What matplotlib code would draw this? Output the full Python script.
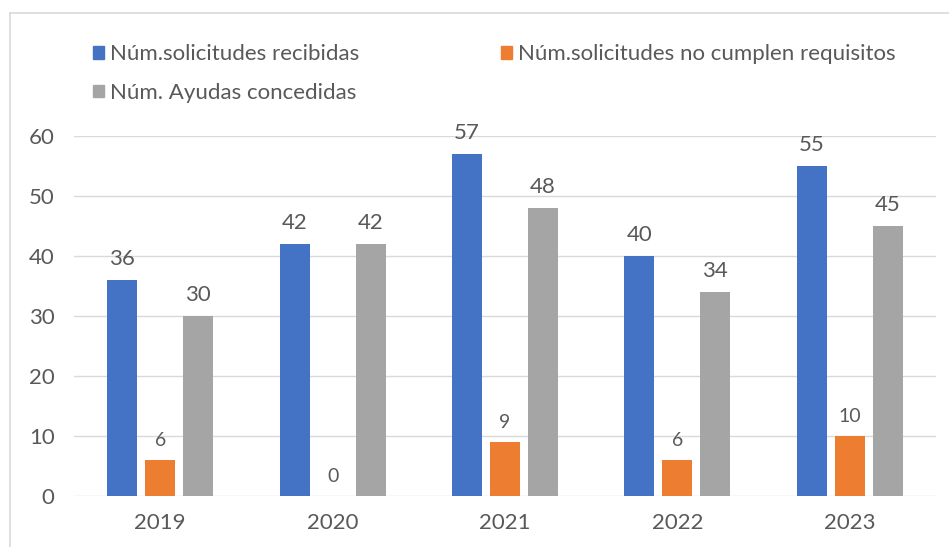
import matplotlib
matplotlib.use("Agg")
import matplotlib.pyplot as plt
import numpy as np
from matplotlib.lines import Line2D
from matplotlib.patches import Patch

plt.rcParams["font.family"] = ["Lato", "DejaVu Sans"]

YEARS = ["2019", "2020", "2021", "2022", "2023"]
RECIBIDAS = [36, 42, 57, 40, 55]
NO_CUMPLEN = [6, 0, 9, 6, 10]
CONCEDIDAS = [30, 42, 48, 34, 45]

SERIES = [
    ("Núm.solicitudes recibidas", RECIBIDAS, "#4472C4"),
    ("Núm.solicitudes no cumplen requisitos", NO_CUMPLEN, "#ED7D31"),
    ("Núm. Ayudas concedidas", CONCEDIDAS, "#A5A5A5"),
]

TEXT = "#595959"
GRID = "#d9d9d9"

fig = plt.figure(figsize=(9.49, 5.47), dpi=100)
W, H = 949, 547
ax = fig.add_axes([74 / W, (H - 496) / H, 862 / W, 360 / H])

x = np.arange(len(YEARS))
width = 0.174
step = 0.22
for i, (label, vals, color) in enumerate(SERIES):
    pos = x + (i - 1) * step
    bars = ax.bar(pos, vals, width, color=color, label=label, zorder=3)
    small = i == 1
    for b, v in zip(bars, vals):
        ax.annotate(str(v), (b.get_x() + b.get_width() / 2, v),
                    xytext=(0, 8), textcoords="offset points",
                    ha="center", va="bottom", color=TEXT,
                    fontsize=14 if small else 16)

ax.set_ylim(0, 60)
ax.set_xlim(-0.5, len(YEARS) - 0.5)
ax.set_yticks(range(0, 61, 10))
ax.set_xticks(x)
ax.set_xticklabels(YEARS)
ax.tick_params(axis="both", length=0, colors=TEXT, labelsize=16)
ax.tick_params(axis="y", pad=14)
ax.tick_params(axis="x", pad=12)
ax.grid(axis="y", color=GRID, linewidth=1, zorder=0)
for s in ax.spines.values():
    s.set_visible(False)

# legend: blue, gray in first column, orange in second
handles = [Patch(color=c) for _, _, c in SERIES]
labels = [l for l, _, _ in SERIES]
order = [0, 2, 1]
leg = fig.legend([handles[k] for k in order], [labels[k] for k in order],
                 ncol=2, loc="upper left", bbox_to_anchor=(82 / W, 1 - 33 / H),
                 frameon=False, fontsize=16, labelcolor=TEXT,
                 handlelength=0.5, handleheight=0.5, handletextpad=0.25,
                 columnspacing=6.4, labelspacing=0.85, borderpad=0)

# outer chart frame (left and top edges only visible)
fig.add_artist(Line2D([10 / W, 10 / W], [0, 1 - 13 / H], color=GRID, lw=1.2,
                      transform=fig.transFigure))
fig.add_artist(Line2D([10 / W, 1], [1 - 13 / H, 1 - 13 / H], color=GRID, lw=1.2,
                      transform=fig.transFigure))

fig.savefig("out.png", dpi=100, facecolor="white")
